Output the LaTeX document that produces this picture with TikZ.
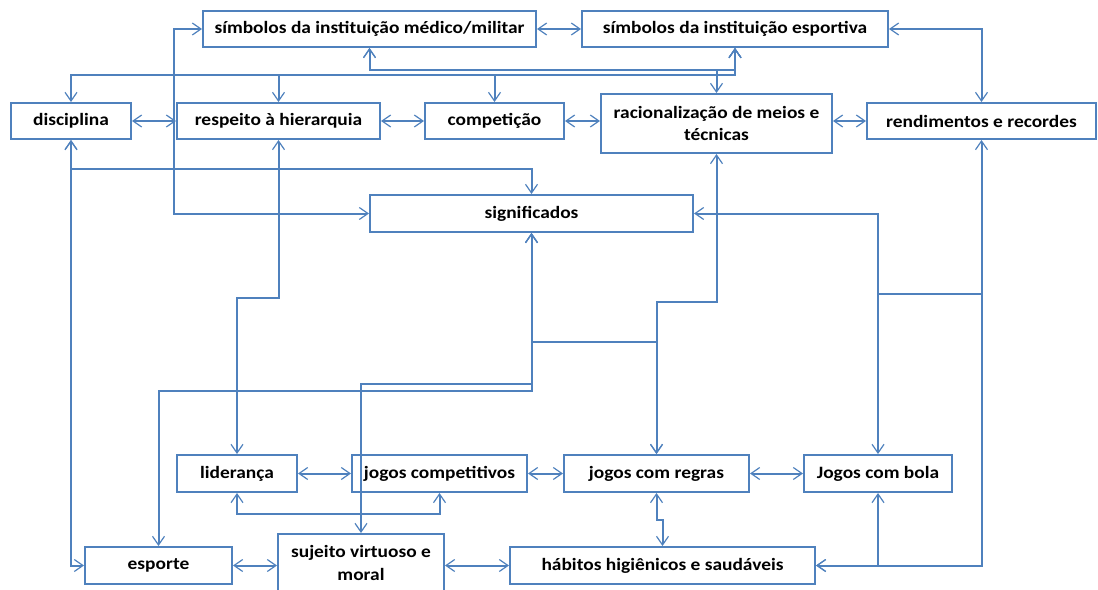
\documentclass[tikz,border=0pt]{standalone}
\usepackage{fontspec}
\setmainfont{Carlito}[FakeStretch=1.12]
\usetikzlibrary{arrows.meta}
\definecolor{lineblue}{RGB}{79,129,189}
\tikzset{
  box/.style={draw=lineblue, line width=1.5pt, fill=white, inner sep=0pt, align=center,
    font=\fontsize{13}{17}\selectfont\bfseries},
  conn/.style={draw=lineblue, line width=1.5pt, {Straight Barb[length=6.5pt,width=9pt,line width=0.9pt]}-{Straight Barb[length=6.5pt,width=9pt,line width=0.9pt]}},
  link/.style={draw=lineblue, line width=1.5pt}
}
\begin{document}
\begin{tikzpicture}[x=0.75pt,y=-0.75pt]
\useasboundingbox (0,0) rectangle (1098,589);
% nodes
\node[box, minimum width=249.75pt, minimum height=27pt] (symMM) at (369.5,29) {símbolos da instituição médico/militar};
\node[box, minimum width=229.5pt, minimum height=27pt] (symEsp) at (735,29) {símbolos da instituição esportiva};
\node[box, minimum width=90pt, minimum height=27pt] (disc) at (71,121) {disciplina};
\node[box, minimum width=152.25pt, minimum height=27pt] (resp) at (278.5,121) {respeito à hierarquia};
\node[box, minimum width=104.25pt, minimum height=27pt] (comp) at (494.5,121) {competição};
\node[box, minimum width=173.25pt, minimum height=44.25pt] (rac) at (716.5,123.5) {racionalização de meios e\\técnicas};
\node[box, minimum width=171.75pt, minimum height=27pt] (rend) at (981.5,121) {rendimentos e recordes};
\node[box, minimum width=242.25pt, minimum height=27.75pt] (sig) at (531.5,213.5) {significados};
\node[box, minimum width=90pt, minimum height=27.75pt] (lid) at (237,473.5) {liderança};
\node[box, minimum width=131.25pt, minimum height=27.75pt] (jcomp) at (439.5,473.5) {jogos competitivos};
\node[box, minimum width=138.75pt, minimum height=27.75pt] (jreg) at (656.5,473.5) {jogos com regras};
\node[box, minimum width=111pt, minimum height=27.75pt] (jbola) at (878,473.5) {Jogos com bola};
\node[box, minimum width=110.25pt, minimum height=27.75pt] (esp) at (158.5,565.5) {esporte};
\node[box, minimum width=124.5pt, minimum height=43.5pt] (suj) at (361,563) {sujeito virtuoso e\\moral};
\node[box, minimum width=228.75pt, minimum height=27.75pt] (hab) at (662.5,565.5) {hábitos higiênicos e saudáveis};
\coordinate (colL) at (174,0);
\coordinate (rowM) at (0,294);
% connectors
\draw[conn] (symMM.east) -- (symEsp.west);
\draw[conn] (symEsp.east) -| (rend.north);
\draw[conn] (symMM.west) -- (symMM.west -| colL) |- (sig.west);
\draw[conn] (symMM.south) -- ++(0,22) -| (symEsp.south);
\draw[conn] (symMM.south) -- ++(0,22) -| (rac.north);
\draw[conn] (symEsp.south) -- ++(0,27) -| (disc.north);
\draw[conn] (symEsp.south) -- ++(0,27) -| (resp.north);
\draw[conn] (symEsp.south) -- ++(0,27) -| (comp.north);
\draw[conn] (disc.east) -- (resp.west);
\draw[conn] (resp.east) -- (comp.west);
\draw[conn] (comp.east) -- (comp.east -| rac.west);
\draw[conn] (rac.east |- rend.west) -- (rend.west);
\draw[conn] (disc.south) -- ++(0,29) -| (sig.north);
\draw[conn] (disc.south) |- (esp.west);
\draw[conn] (resp.south) -- ++(0,158) -| (lid.north);
\draw[conn] (sig.south) -- ++(0,151) -| (suj.north);
\draw[conn] (sig.south) -- ++(0,158) -| (esp.north);
\draw[conn] (sig.south) -- ++(0,109) -| (jreg.north);
\draw[conn] (rac.south) -- ++(0,148) -| (jreg.north);
\draw[conn] (sig.east) -| (jbola.north);
\draw[link] (jbola.north |- rowM) -- (rend.south |- rowM);
\draw[conn] (rend.south) |- (hab.east);
\draw[conn] (jbola.south) |- (hab.east);
\draw[conn] (lid.east) -- (jcomp.west);
\draw[conn] (jcomp.east) -- (jreg.west);
\draw[conn] (jreg.east) -- (jbola.west);
\draw[conn] (lid.south) -- ++(0,21) -| (jcomp.south);
\draw[conn] (jreg.south) -- ++(0,27) -| (hab.north);
\draw[conn] (esp.east) -- (esp.east -| suj.west);
\draw[conn] (suj.east |- hab.west) -- (hab.west);
\end{tikzpicture}
\end{document}
